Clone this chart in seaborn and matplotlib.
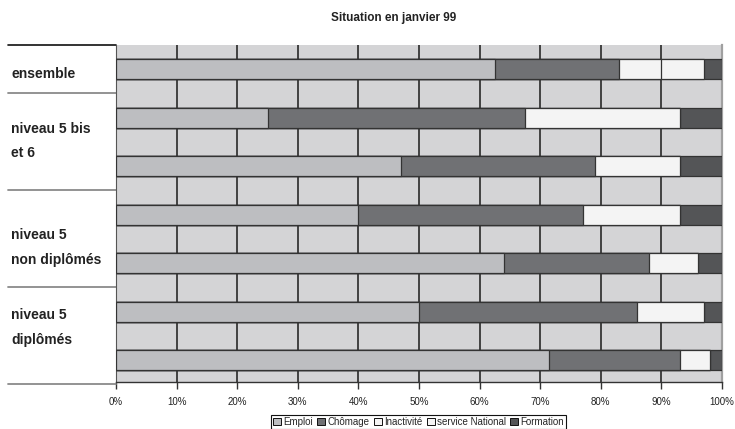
import numpy as np
import pandas as pd
import matplotlib
matplotlib.use("Agg")
import matplotlib.pyplot as plt
import seaborn as sns
from matplotlib.patches import Patch
from matplotlib.transforms import blended_transform_factory

# --- data (percent of each population, situation in January 1999) ---
rows = ["ensemble", "5bis6_a", "5bis6_b", "5nd_a", "5nd_b", "5d_a", "5d_b"]
emploi = [62.5, 25.0, 47.0, 40.0, 64.0, 50.0, 71.5]
chomage = [20.5, 42.5, 32.0, 37.0, 24.0, 36.0, 21.5]
inactivite = [7.0, 25.5, 14.0, 16.0, 8.0, 11.0, 5.0]
service_national = [7.0, 0.0, 0.0, 0.0, 0.0, 0.0, 0.0]
formation = [3.0, 7.0, 7.0, 7.0, 4.0, 3.0, 2.0]
series_names = ["Emploi", "Chômage", "Inactivité", "service National", "Formation"]
group_names = ["ensemble", "niveau 5 bis\net 6", "niveau 5\nnon diplômés", "niveau 5\ndiplômés"]
x_ticks = list(range(0, 101, 10))
title = "Situation en janvier 99"

colors = ["#bdbec1", "#707174", "#f4f4f4", "#f4f4f4", "#545557"]

sns.set_theme(style="white")
plt.rcParams["font.family"] = ["Liberation Sans", "DejaVu Sans"]

W, H = 735, 429
fig = plt.figure(figsize=(W / 100, H / 100), dpi=100)
ax = fig.add_axes([116 / W, 1 - 382 / H, 606 / W, 337 / H])
ax.set_facecolor("#d4d4d6")

values = np.array([emploi, chomage, inactivite, service_national, formation])
cum = np.cumsum(values, axis=0)

# stacked bars: draw cumulative totals from the outermost segment inwards
for i in range(len(series_names) - 1, -1, -1):
    df = pd.DataFrame({"row": rows, "val": cum[i]})
    sns.barplot(data=df, x="val", y="row", orient="h", color=colors[i],
                saturation=1, width=0.41, errorbar=None,
                edgecolor="#333333", linewidth=0.9, ax=ax, zorder=3)

ax.set_xlim(0, 100)
ax.set_ylim(6.45, -0.5)
ax.set_xlabel("")
ax.set_ylabel("")
ax.set_yticks([])
ax.set_xticks(x_ticks)
ax.set_xticklabels([f"{v}%" for v in x_ticks], fontsize=7, color="#222222")
ax.tick_params(axis="x", direction="out", length=5, width=1, color="#333333",
               pad=6, bottom=True)
ax.set_axisbelow(True)
ax.xaxis.grid(True, color="#1a1a1a", linewidth=1.1, zorder=0)
ax.yaxis.grid(False)

for side in ["top"]:
    ax.spines[side].set_visible(False)
ax.spines["right"].set_color("#a0a0a0")
ax.spines["right"].set_linewidth(1.6)
ax.spines["left"].set_color("#555555")
ax.spines["left"].set_linewidth(0.8)
ax.spines["bottom"].set_color("#333333")
ax.spines["bottom"].set_linewidth(1.0)

# group separators and labels in the left margin
trans = blended_transform_factory(ax.transAxes, ax.transData)
x_left = (8 - 116) / 606
for k, y in enumerate([-0.5, 0.5, 2.5, 4.5, 6.5]):
    ax.plot([x_left, 0], [y, y], transform=trans, clip_on=False,
            color="#111111" if k == 0 else "#8a8a8a", lw=1.2 if k == 0 else 1.3)

label_y = [0.1, 1.48, 3.68, 5.33]
x_text = (11 - 116) / 606
for name, y in zip(group_names, label_y):
    ax.text(x_text, y, name, transform=trans, ha="left", va="center",
            fontsize=10, fontweight="bold", color="#222222", linespacing=1.95)

fig.text(394 / W, 1 - 18 / H, title, ha="center", va="center",
         fontsize=8.5, fontweight="bold", color="#222222")

handles = [Patch(facecolor=c, edgecolor="#111111", linewidth=0.7) for c in colors]
leg = fig.legend(handles, series_names, loc="center", ncol=5,
                 bbox_to_anchor=(418.5 / W, 1 - 422 / H), fontsize=7,
                 frameon=True, fancybox=False, edgecolor="#111111",
                 framealpha=1, handlelength=0.8, handleheight=0.8,
                 handletextpad=0.2, columnspacing=0.5, borderpad=0.25,
                 borderaxespad=0)
leg.get_frame().set_linewidth(0.8)

fig.savefig("out.png", dpi=100)
